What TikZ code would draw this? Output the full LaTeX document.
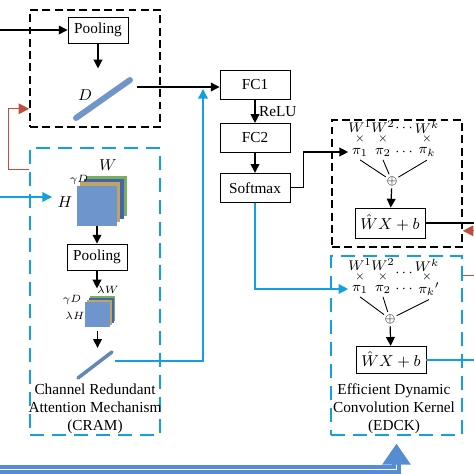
\documentclass[tikz,border=0pt]{standalone}
\usepackage{fontspec}
\setmainfont{Liberation Serif}
\usepackage{tikz}
\usetikzlibrary{arrows.meta, positioning, calc, fit}

\definecolor{cramcyan}{RGB}{20,160,220}
\definecolor{loopred}{RGB}{190,80,60}
\definecolor{featfront}{RGB}{110,150,205}
\definecolor{feattan}{RGB}{190,165,100}
\definecolor{featdark}{RGB}{70,100,170}
\definecolor{featgreen}{RGB}{120,175,95}
\definecolor{wideblue}{RGB}{85,140,210}

\begin{document}
\begin{tikzpicture}[
    x=0.02cm, y=-0.02cm,
    every node/.style={font=\fontsize{8.7}{10.2}\selectfont},
    block/.style={rectangle, draw=black, line width=0.5pt, minimum width=1.4cm, minimum height=0.58cm, inner sep=1pt, align=center},
    poolbox/.style={block, minimum width=1.2cm, minimum height=0.52cm},
    blackgroup/.style={draw=black, line width=0.9pt, dash pattern=on 4.5pt off 2.5pt, inner sep=0pt},
    cyangroup/.style={draw=cramcyan, line width=0.8pt, dash pattern=on 8pt off 4.5pt, inner sep=0pt},
    layer/.style={rectangle, inner sep=0pt, minimum size=0.8cm},
    smalllayer/.style={rectangle, inner sep=0pt, minimum size=0.5cm},
    dimlabel/.style={font=\fontsize{6.5}{7}\selectfont},
    wlabel/.style={inner sep=0pt, font=\fontsize{8}{8}\selectfont},
    crosslabel/.style={inner sep=0pt, font=\fontsize{6}{6}\selectfont},
    sumnode/.style={circle, inner sep=0pt, font=\fontsize{7}{7}\selectfont},
    dbar/.style={line width=0.5pt, draw=featdark!70, double=featfront, double distance=2.4pt, line cap=round},
    cbar/.style={line width=2pt, draw=featfront!90!black, line cap=round},
    line/.style={-{Triangle[length=5pt, width=5pt]}, line width=0.7pt},
    plainline/.style={line width=0.7pt},
    thinline/.style={line width=0.5pt},
    cyanline/.style={draw=cramcyan, line width=0.8pt},
    cyanarrow/.style={cyanline, -{Triangle[length=5.5pt, width=5.5pt]}},
    redarrow/.style={draw=loopred, line width=0.8pt, -{Triangle[length=6pt, width=6pt]}},
    widearrow/.style={draw=wideblue, line width=1.9pt, double=white, double distance=1.1pt, -{Triangle[length=0.42cm, width=0.56cm]}, shorten >=0.16cm}
]
\useasboundingbox (0,0) rectangle (474,474);

% Groups
\node[blackgroup, fit={(30,10) (160,127)}] (poolgrp) {};
\node[cyangroup, fit={(30,148) (160,435)}] (cram) {};
\node[blackgroup, fit={(332,120) (462,247)}] (wgrp) {};
\node[cyangroup, fit={(331,256) (462,435)}] (edck) {};

% Nodes
\node[poolbox] (pool1) at (98,30) {Pooling};
\node[block] (fc1) at (255,85) {FC1};
\node[block, below=0.46cm of fc1] (fc2) {FC2};
\node[block, below=0.40cm of fc2] (soft) {Softmax};

% feature maps
\foreach \i/\c in {3/featgreen, 2/featdark, 1/feattan}
  \node[layer, fill=\c] at (97+3.3*\i, 205.5-3.3*\i) {};
\node[layer, fill=featfront] (cube1) at (97,205.5) {};
\node at (108,165) {$W$};
\node[dimlabel] at (79,180) {$\gamma D$};
\node at (65,202) {$H$};

\node[poolbox] (pool2) at (97,257) {Pooling};

\foreach \i/\c in {3/featgreen, 2/featdark, 1/feattan}
  \node[smalllayer, fill=\c] at (97.5+1.8*\i, 314-1.8*\i) {};
\node[smalllayer, fill=featfront] (cube2) at (97.5,314) {};
\node[dimlabel] at (108,290) {$\lambda W$};
\node[dimlabel] at (72,300) {$\gamma D$};
\node[dimlabel] at (75,316) {$\lambda H$};

% bars
\coordinate (dlow) at (76,118);
\coordinate (dhigh) at (130,80);
\coordinate (dout) at (137,87);
\draw[dbar] (dlow) -- (dhigh);
\node at (85,95) {$D$};

\coordinate (clow) at (78,378);
\coordinate (chigh) at (112,352);
\coordinate (cout) at (115,361);
\draw[cbar] (clow) -- (chigh);

\node[align=center] at (95,409) {Channel Redundant\\Attention Mechanism\\(CRAM)};
\node[align=center] at (394,409) {Efficient Dynamic\\Convolution Kernel\\(EDCK)};

% kernel weights
\foreach \x/\s/\n in {360/1/1, 383/2/2, 427/k/k} {
  \node[wlabel] at (\x,127) {$W^{\s}$};
  \node[crosslabel] at (\x,139) {$\times$};
  \node[wlabel] (p\n) at (\x,152) {$\pi_{\s}$};
  \node[wlabel] at (\x,265) {$W^{\s}$};
  \node[crosslabel] at (\x,277) {$\times$};
}
\node[wlabel] at (404,128) {$\cdots$};
\node[wlabel] at (404,152) {$\cdots$};
\node[wlabel] at (404,273) {$\cdots$};
\node[wlabel] at (404,289) {$\cdots$};
\node[wlabel] (q1) at (360,289) {$\pi_1$};
\node[wlabel] (q2) at (383,289) {$\pi_2$};
\node[wlabel] (qk) at (429,289) {$\pi_k{}'$};

\node[sumnode] (s1) at (392,181) {$\oplus$};
\node[sumnode] (s2) at (390,319) {$\oplus$};
\node[block, minimum height=0.6cm] (agg1) at (390,223) {$\hat{W}X+b$};
\node[block, minimum height=0.55cm] (agg2) at (391,360) {$\hat{W}X+b$};

% Connections
\coordinate (in1) at (-5,30);
\coordinate (in2) at (-5,197);
\coordinate (in3) at (-5,469.5);
\coordinate (cubein) at (52,197);
\coordinate (fcjoin) at (203,89);

\draw[line] (in1) -- (pool1);
\draw[line] (pool1.south) -- ++(0,25);
\draw[line] (dout) -- (dout -| fc1.west);
\draw[cyanarrow] (in2) -- (cubein);
\draw[line] (cube1) -- (pool2);
\draw[line] (pool2.south) -- ++(0,18);
\draw[line] ($(cube2.south)+(0,4)$) -- ++(0,17);
\draw[cyanarrow] (cout) -| (fcjoin);
\draw[line] (fc1) -- node[right, inner sep=2pt] {ReLU} (fc2);
\draw[line] (fc2) -- (soft);
\draw[line] (soft.east) -- ++(13,0) |- ([xshift=-2pt]p1.west);
\draw[cyanarrow] (soft.south) |- ([xshift=-2pt]q1.west);
\foreach \n in {1,2,k} {
  \draw[thinline] ([yshift=-2pt]p\n.south) -- (s1);
  \draw[thinline] ([yshift=-2pt]q\n.south) -- (s2);
}
\draw[line] (s1) -- (agg1);
\draw[line] (s2) -- (agg2);
\draw[plainline] (agg1.east) -- ++(60,0);
\draw[cyanline] (agg2.east) -- ++(60,0);
\draw[redarrow] ($(cram.north west)+(0,22)$) -- ++(-21,0) |- ($(poolgrp.south west)+(0,-19)$);
\draw[redarrow] ($(edck.north east)+(0,20)$) -- ++(30,0) |- ($(wgrp.south east)+(0,-17)$);
\draw[widearrow] (in3) -| (edck.south);

\end{tikzpicture}
\end{document}
